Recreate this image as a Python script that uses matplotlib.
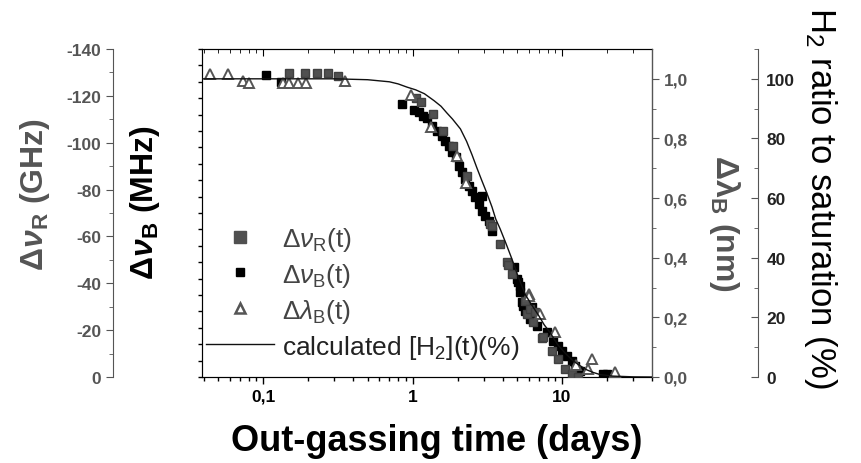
import matplotlib
matplotlib.use("Agg")
import matplotlib.pyplot as plt
from matplotlib.ticker import MultipleLocator, FuncFormatter, LogLocator, NullFormatter, FixedLocator
from matplotlib.lines import Line2D

plt.rcParams['font.family'] = ['Liberation Sans', 'DejaVu Sans']
plt.rcParams['axes.unicode_minus'] = False
plt.rcParams['mathtext.fontset'] = 'custom'
plt.rcParams['mathtext.rm'] = 'Liberation Sans'
plt.rcParams['mathtext.it'] = 'Liberation Sans:italic'
plt.rcParams['mathtext.bf'] = 'Liberation Sans:bold'
plt.rcParams['mathtext.bfit'] = 'Liberation Sans:italic:bold'

# ---- data ----
# Delta nu_R (GHz), grey squares
nuR_t = [0.148, 0.19, 0.231, 0.27, 0.315, 1.047, 1.13, 1.37, 1.60, 1.87, 2.31, 3.31, 3.40,
         3.82, 4.27, 4.32, 4.62, 5.66, 5.81, 6.1, 6.44, 6.6, 7.32, 7.5, 8.53, 9.46, 10.47,
         11.6, 12.85]
nuR_v = [-129.6, -129.6, -129.6, -129.6, -128.3, -119.0, -117.3, -112.3, -105.1, -98.7, -85.9,
         -65.3, -64.5, -56.8, -48.9, -48.0, -44.0, -32.6, -26.9, -29.0, -23.3, -27.6, -16.5,
         -16.9, -11.2, -7.7, -3.4, -1.3, -0.2]

# Delta nu_B (MHz), black squares
nuB_t = [0.104, 0.132, 0.853, 1.03, 1.10, 1.18, 1.25, 1.35, 1.46, 1.58, 1.66, 1.75, 1.84,
         1.94, 2.04, 2.14, 2.26, 2.37, 2.50, 2.63, 2.77, 2.91, 2.91, 3.07, 3.23, 3.40, 4.74,
         4.99, 5.11, 5.25, 5.25, 5.38, 5.52, 5.66, 6.12, 6.28, 6.78, 7.91, 8.75, 9.46, 9.95,
         10.75, 11.6, 12.2, 13.2, 18.9, 19.9]
nuB_v = [18.41, 18.0, 16.65, 16.3, 16.14, 15.93, 15.77, 15.32, 15.02, 14.71, 14.41, 14.1, 13.7,
         13.4, 12.89, 12.48, 12.07, 11.66, 11.36, 10.96, 10.55, 10.15, 11.05, 9.84, 9.53, 8.92,
         6.69, 5.98, 5.77, 5.53, 5.16, 4.55, 4.35, 4.04, 3.54, 4.25, 3.13, 2.72, 2.21, 1.91,
         1.60, 1.30, 0.99, 0.69, 0.38, 0.18, 0.18]

# Delta lambda_B (nm), open grey triangles
lamB_t = [0.0439, 0.058, 0.073, 0.081, 0.135, 0.150, 0.170, 0.194, 0.352, 0.98, 1.32, 1.99,
          2.29, 5.97, 5.97, 7.13, 8.98, 12.4, 15.0, 15.8, 22.6]
lamB_v = [1.016, 1.016, 0.994, 0.986, 0.986, 0.986, 0.986, 0.986, 0.992, 0.946, 0.839, 0.740,
          0.651, 0.278, 0.273, 0.211, 0.152, 0.040, 0.027, 0.060, 0.016]

# calculated [H2](t) (%)
h2_t = [0.039, 0.1, 0.3, 0.5, 0.7, 0.8, 0.92, 1.05, 1.2, 1.39, 1.55, 1.7, 1.85, 2.09, 2.3,
        2.5, 2.7, 2.9, 3.15, 3.4, 3.6, 3.86, 4.2, 4.62, 5.1, 5.7, 6.3, 7.0, 7.6, 8.3, 9.3,
        10.5, 11.8, 13.2, 14.5, 16, 18, 22, 30, 40]
h2_v = [100, 100, 100, 99.7, 99.0, 98.3, 97.2, 96.3, 95.0, 92.7, 90.8, 88.5, 86.5, 83.2, 79.0,
        74.5, 70.0, 66.0, 61.5, 57.0, 53.0, 49.6, 45.0, 39.6, 33.5, 27.5, 24.0, 20.5, 17.5,
        15.0, 11.0, 8.0, 5.5, 3.8, 2.5, 1.6, 0.8, 0.3, 0.05, 0.0]

xticks = [0.1, 1, 10]

GREY = '#555555'

fig = plt.figure(figsize=(8.61, 4.64), dpi=100)
ax = fig.add_axes([202/861, 1-378/464, 450/861, 328/464])

def comma(v, pos=None):
    return ('%g' % v).replace('.', ',')

# main axis
ax.set_xscale('log')
ax.set_xlim(0.039, 40)
ax.set_ylim(0, 20)
ax.yaxis.set_major_locator(MultipleLocator(2))
ax.yaxis.set_minor_locator(MultipleLocator(1))
ax.xaxis.set_major_locator(FixedLocator(xticks))
ax.xaxis.set_major_formatter(FuncFormatter(comma))
ax.xaxis.set_minor_locator(LogLocator(base=10, subs=range(2, 10), numticks=20))
ax.xaxis.set_minor_formatter(NullFormatter())
ax.tick_params(axis='both', which='major', direction='out', length=5, width=1,
               labelsize=12.5)
ax.tick_params(axis='both', which='minor', direction='out', length=3, width=1)
for lab in ax.get_xticklabels() + ax.get_yticklabels():
    lab.set_fontweight('bold')
for s in ax.spines.values():
    s.set_color('#333333')

# top ticks inward
axT = ax.twiny()
axT.set_xscale('log')
axT.set_xlim(ax.get_xlim())
axT.xaxis.set_major_locator(FixedLocator(xticks))
axT.xaxis.set_minor_locator(LogLocator(base=10, subs=range(2, 10), numticks=20))
axT.tick_params(axis='x', which='major', direction='in', length=5, labeltop=False)
axT.tick_params(axis='x', which='minor', direction='in', length=3, labeltop=False)
axT.set_yticks([])

# outer left: Delta nu_R (GHz)
axR = ax.twinx()
axR.set_ylim(0, -140)
axR.spines['left'].set_position(('axes', -0.198))
axR.spines['left'].set_visible(True)
axR.spines['left'].set_color(GREY)
axR.spines['right'].set_visible(False)
axR.spines['top'].set_visible(False)
axR.spines['bottom'].set_visible(False)
axR.yaxis.set_ticks_position('left')
axR.yaxis.set_label_position('left')
axR.yaxis.set_major_locator(MultipleLocator(20))
axR.yaxis.set_minor_locator(MultipleLocator(10))
axR.tick_params(axis='y', which='major', direction='out', length=5, color=GREY,
                labelcolor=GREY, labelsize=12.5)
axR.tick_params(axis='y', which='minor', direction='out', length=3, color=GREY)
for lab in axR.get_yticklabels():
    lab.set_fontweight('bold')

# right: Delta lambda_B (nm)
axL = ax.twinx()
axL.set_ylim(0, 1.1)
axL.spines['right'].set_color(GREY)
for k in ['left', 'top', 'bottom']:
    axL.spines[k].set_visible(False)
axL.yaxis.set_major_locator(FixedLocator([0, 0.2, 0.4, 0.6, 0.8, 1.0]))
axL.yaxis.set_minor_locator(FixedLocator([0.1, 0.3, 0.5, 0.7, 0.9]))
axL.yaxis.set_major_formatter(FuncFormatter(lambda v, p: ('%.1f' % v).replace('.', ',')))
axL.tick_params(axis='y', which='major', direction='out', length=5, color=GREY,
                labelcolor=GREY, labelsize=12.5)
axL.tick_params(axis='y', which='minor', direction='out', length=3, color=GREY)
for lab in axL.get_yticklabels():
    lab.set_fontweight('bold')

# far right: H2 ratio (%)
axH = ax.twinx()
axH.set_ylim(0, 110)
axH.spines['right'].set_position(('axes', 1.2356))
axH.spines['right'].set_color(GREY)
for k in ['left', 'top', 'bottom']:
    axH.spines[k].set_visible(False)
axH.yaxis.set_major_locator(FixedLocator([0, 20, 40, 60, 80, 100]))
axH.yaxis.set_minor_locator(FixedLocator([10, 30, 50, 70, 90, 110]))
axH.tick_params(axis='y', which='major', direction='in', length=5, color=GREY,
                labelcolor='#222222', labelsize=12.5, pad=6)
axH.tick_params(axis='y', which='minor', direction='in', length=3, color=GREY)
for lab in axH.get_yticklabels():
    lab.set_fontweight('bold')

# data
axH.plot(h2_t, h2_v, color='#111111', lw=1.0, zorder=2)
axR.plot(nuR_t, nuR_v, ls='none', marker='s', ms=6, color='#505050', mec='#404040', zorder=3)
ax.plot(nuB_t, nuB_v, ls='none', marker='s', ms=5.3, color='black', zorder=3)
axL.plot(lamB_t, lamB_v, ls='none', marker='^', ms=6.5, mfc='white', mec='#555555', mew=1.4,
         zorder=4)

# legend
handles = [
    Line2D([], [], ls='none', marker='s', ms=8, color='#505050'),
    Line2D([], [], ls='none', marker='s', ms=5.5, color='black'),
    Line2D([], [], ls='none', marker='^', ms=7, mfc='white', mec='#555555', mew=1.8),
    Line2D([], [], color='#111111', lw=1.0),
]
labels = [r'$\Delta\nu_{\mathrm{R}}$(t)', r'$\Delta\nu_{\mathrm{B}}$(t)',
          r'$\Delta\lambda_{\mathrm{B}}$(t)', r'calculated [H$_2$](t)(%)']
leg = axH.legend(handles, labels, loc='lower left', bbox_to_anchor=(-0.015, 0.018),
                 frameon=False, fontsize=19, handlelength=2.6, handletextpad=0.3,
                 labelspacing=0.3, borderaxespad=0.0)
for i, t in enumerate(leg.get_texts()):
    t.set_color('#444444' if i < 3 else '#222222')

# axis labels
ax.text(0.522, -0.195, 'Out-gassing time (days)', transform=ax.transAxes, ha='center',
        va='center', fontsize=26, fontweight='bold', color='black')
ax.text(-0.127, 0.535, r'$\mathbf{\Delta}\boldsymbol{\nu}_\mathbf{B}\ \mathbf{(MHz)}$',
        transform=ax.transAxes, ha='center', va='center', rotation=90, fontsize=23,
        color='black')
ax.text(-0.372, 0.56, r'$\mathbf{\Delta}\boldsymbol{\nu}_\mathbf{R}\ \mathbf{(GHz)}$',
        transform=ax.transAxes, ha='center', va='center', rotation=90, fontsize=23,
        color=GREY)
ax.text(1.162, 0.47, r'$\mathbf{\Delta}\boldsymbol{\lambda}_\mathbf{B}\ \mathbf{(nm)}$',
        transform=ax.transAxes, ha='center', va='center', rotation=-90, fontsize=23,
        color=GREY)
ax.text(1.375, 0.55, r'H$_2$ ratio to saturation (%)', transform=ax.transAxes,
        ha='center', va='center', rotation=-90, fontsize=25, color='black')

fig.savefig('out.png', dpi=100)
